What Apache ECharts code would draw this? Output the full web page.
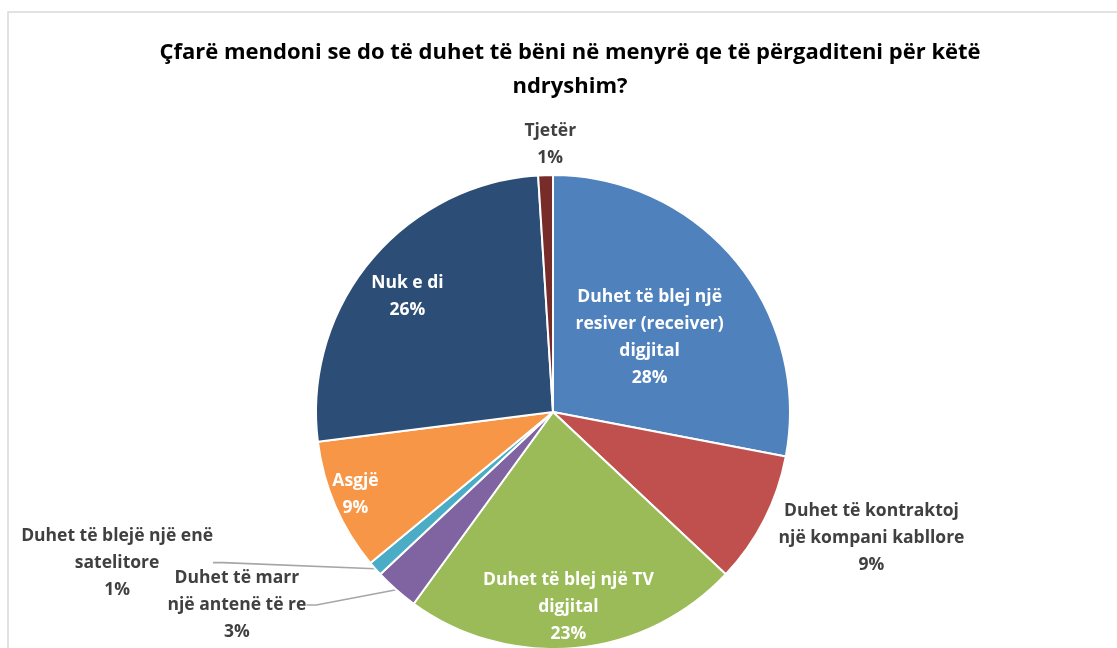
<!DOCTYPE html>
<html>
<head>
<meta charset="utf-8">
<script src="https://cdn.jsdelivr.net/npm/echarts@6/dist/echarts.min.js"></script>
<style>
  html, body { margin: 0; padding: 0; background: #fff; }
  #chart { width: 1117px; height: 648px; }
</style>
</head>
<body>
<div id="chart"></div>
<script>
// Survey answers, clockwise from 12 o'clock
const categories = [
  'Duhet të blej një\nresiver (receiver)\ndigjital',
  'Duhet të kontraktoj\nnjë kompani kabllore',
  'Duhet të blej një TV\ndigjital',
  'Duhet të marr\nnjë antenë të re',
  'Duhet të blejë një enë\nsatelitore',
  'Asgjë',
  'Nuk e di',
  'Tjetër'
];
const shares = [28, 9, 23, 3, 1, 9, 26, 1];
const colors = ['#4F81BD', '#C0504D', '#9BBB59', '#8064A2', '#4BACC6', '#F79646', '#2C4D75', '#772C2A'];
const insideLabel = [true, false, true, false, false, true, true, false];
const showLeader = [false, false, false, true, true, false, false, false];

// label nudges [dx, dy] away from the library's default spot
const labelNudge = [
  [3, 3], [-14, 12], [4, 74], [-65, 4], [-136, -16], [-86, 34], [-52, -38], [46, -16]
];

const titleText = 'Çfarë mendoni se do të duhet të bëni në menyrë qe të përgaditeni për këtë\nndryshim?';

const FONT = '"Open Sans", sans-serif';

const data = categories.map((name, i) => ({
  name: name,
  value: shares[i],
  itemStyle: { color: colors[i] },
  label: insideLabel[i]
    ? { position: 'inside', color: '#ffffff' }
    : { position: 'outside', color: '#404040' },
  labelLine: { show: showLeader[i] }
}));

const chart = echarts.init(document.getElementById('chart'), null, { renderer: 'canvas' });
chart.setOption({
  animation: false,
  backgroundColor: '#ffffff',
  title: {
    text: titleText,
    left: 565,
    top: 31,
    textAlign: 'center',
    textStyle: {
      fontFamily: FONT,
      fontSize: 22,
      fontWeight: 'bold',
      color: '#000000',
      lineHeight: 34
    }
  },
  graphic: [{
    type: 'rect',
    shape: { x: 8, y: 12, width: 1300, height: 800 },
    style: { fill: 'none', stroke: '#d9d9d9', lineWidth: 1.5 },
    silent: true,
    z: -1
  }],
  series: [{
    type: 'pie',
    center: [553, 412],
    radius: 237,
    startAngle: 90,
    clockwise: true,
    avoidLabelOverlap: false,
    itemStyle: { borderColor: '#ffffff', borderWidth: 2 },
    label: {
      fontFamily: FONT,
      fontSize: 17.5,
      fontWeight: 'bold',
      lineHeight: 27,
      align: 'center',
      formatter: p => p.name + '\n' + p.value + '%'
    },
    labelLine: {
      length: 15,
      length2: 10,
      lineStyle: { color: '#a6a6a6', width: 1.6 }
    },
    labelLayout: function (params) {
      const n = labelNudge[params.dataIndex];
      if (insideLabel[params.dataIndex]) {
        return { dx: n[0], dy: n[1], align: 'center', verticalAlign: 'middle' };
      }
      // outside labels: re-anchor at the centre of the default box so the
      // leader line gets re-routed to the label's new place
      const r = params.labelRect;
      return {
        x: r.x + r.width / 2 + n[0],
        y: r.y + r.height / 2 + n[1],
        align: 'center',
        verticalAlign: 'middle'
      };
    },
    data: data
  }]
});
</script>
</body>
</html>
